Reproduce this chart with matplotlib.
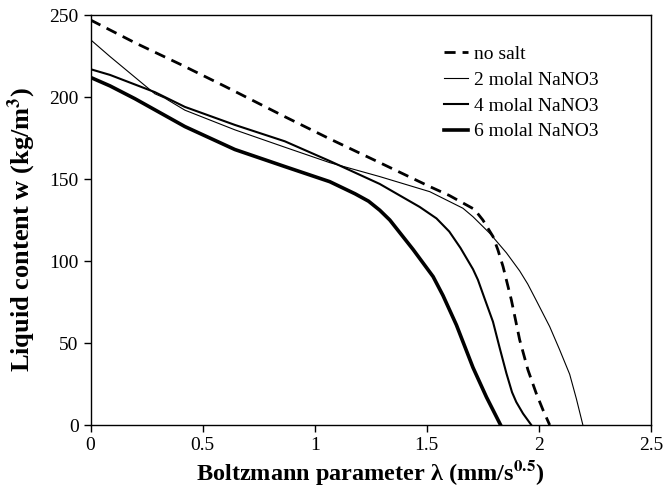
import matplotlib
matplotlib.use('Agg')
import matplotlib.pyplot as plt

# values
x_nosalt = [0, 0.2, 0.4, 0.6, 0.867, 1.067, 1.29, 1.513, 1.6, 1.706, 1.721, 1.75, 1.795, 1.817, 1.84, 1.877, 1.914, 1.951, 1.988, 2.018, 2.048]
w_nosalt = [247, 233, 220, 206.5, 188, 174.5, 160, 145.4, 140, 132, 130, 125, 115, 106.8, 96.6, 76.3, 52, 33.6, 19.3, 9.2, 0]

x_2molal = [0, 0.087, 0.287, 0.332, 0.421, 0.644, 0.867, 1.067, 1.29, 1.513, 1.661, 1.706, 1.78, 1.855, 1.914, 1.95, 1.988, 2.048, 2.092, 2.137, 2.167, 2.196]
w_2molal = [235, 224.7, 202, 199.3, 192, 180, 169.4, 160, 151.5, 142.3, 132.2, 127, 117, 105, 94, 86, 76, 60, 46, 31, 16, 0]

x_4molal = [0, 0.087, 0.287, 0.421, 0.644, 0.867, 1.067, 1.29, 1.468, 1.543, 1.6, 1.65, 1.706, 1.728, 1.758, 1.795, 1.825, 1.855, 1.88, 1.899, 1.929, 1.966]
w_4molal = [217, 213.5, 203, 194, 183, 173, 161, 147, 133, 126, 118, 108, 95, 88.5, 77, 63, 47, 31.5, 20, 14, 7, 0]

x_6molal = [0, 0.087, 0.198, 0.421, 0.644, 0.867, 1.067, 1.18, 1.24, 1.29, 1.335, 1.439, 1.528, 1.572, 1.632, 1.706, 1.766, 1.829]
w_6molal = [212, 206.8, 199, 182, 168, 157.6, 148.4, 141, 136.5, 131, 125, 107, 90.5, 79, 61, 35, 17, 0]

plt.rcParams['font.family'] = ['Liberation Serif', 'DejaVu Serif']
plt.rcParams['mathtext.fontset'] = 'stix'

fig = plt.figure(figsize=(6.65, 4.86), dpi=100)
ax = fig.add_axes([0.1361, 0.1255, 0.979 - 0.1361, 0.969 - 0.1255])

ax.plot(x_nosalt, w_nosalt, c='black', lw=2, ls=(0, (4, 2.5)), label='no salt')
ax.plot(x_2molal, w_2molal, c='black', lw=0.8, label='2 molal NaNO3')
ax.plot(x_4molal, w_4molal, c='black', lw=1.5, label='4 molal NaNO3')
ax.plot(x_6molal, w_6molal, c='black', lw=2.6, label='6 molal NaNO3')

ax.set_xlim(0, 2.5)
ax.set_ylim(0, 250)
ax.set_xticks([0, 0.5, 1, 1.5, 2, 2.5])
ax.set_xticklabels(['0', '0.5', '1', '1.5', '2', '2.5'])
ax.set_yticks([0, 50, 100, 150, 200, 250])
ax.tick_params(direction='out', length=5, width=1, labelsize=14, colors='black')
for s in ax.spines.values():
    s.set_linewidth(1)

ax.set_xlabel('Boltzmann parameter λ (mm/s$^{\\mathbf{0.5}}$)', fontsize=17.5, fontweight='bold', labelpad=3)
ax.set_ylabel('Liquid content w (kg/m$^{\\mathbf{3}}$)', fontsize=19, fontweight='bold')
ax.yaxis.set_label_coords(-0.094, 0.478)

ax.legend(loc='upper left', bbox_to_anchor=(0.616, 0.945), borderaxespad=0, frameon=False, fontsize=14,
          handlelength=1.25, handletextpad=0.3, labelspacing=0.42)

fig.savefig('out.png', dpi=100)
